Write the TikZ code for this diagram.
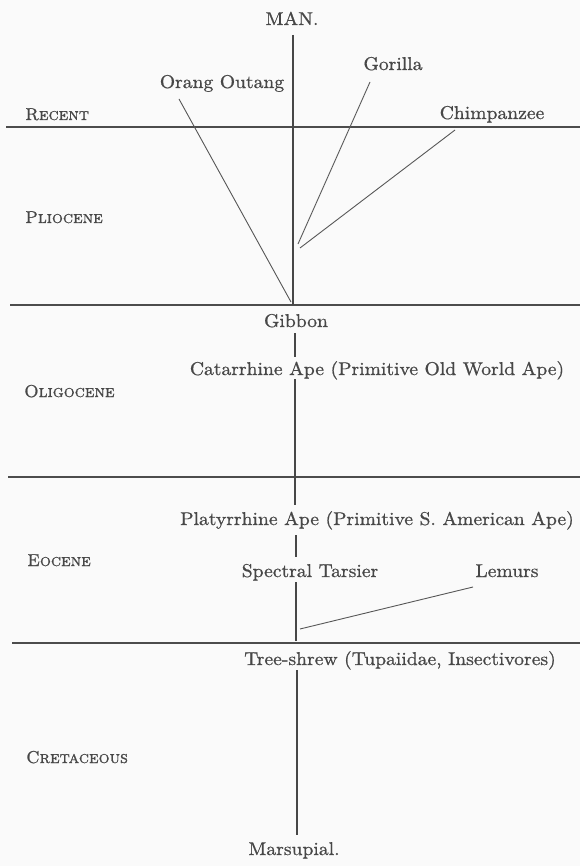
\documentclass[tikz,border=0pt]{standalone}
\usepackage{fontspec}
\newfontfamily\heavy{lmroman10-regular.otf}[FakeBold=0.8,SmallCapsFont=lmromancaps10-regular.otf,SmallCapsFeatures={FakeBold=1.0}]
\begin{document}
\begin{tikzpicture}[x=1pt,y=-1pt,
  lbl/.style={inner sep=0pt,anchor=base,text=black!72,xscale=1.06,transform shape,font=\heavy\fontsize{18.5}{22}\selectfont},
  era/.style={inner sep=0pt,anchor=base west,text=black!72,font=\heavy\scshape\fontsize{17.2}{21}\selectfont},
  branch/.style={draw=black!66,line width=0.9pt},
  stem/.style={draw=black!72,line width=1.1pt},
  bound/.style={draw=black!70,line width=1.3pt}]
\fill[black!2] (0,0) rectangle (580,866);
\useasboundingbox (0,0) rectangle (580,866);
% taxa
\node[lbl] (man) at (292,25) {MAN.};
\node[lbl] (orang) at (222,88) {Orang Outang};
\node[lbl] (gorilla) at (393,70) {Gorilla};
\node[lbl] (chimp) at (492,119) {Chimpanzee};
\node[lbl] (gibbon) at (296,327) {Gibbon};
\node[lbl] (cat) at (377,375) {Catarrhine Ape (Primitive Old World Ape)};
\node[lbl] (platy) at (377,525) {Platyrrhine Ape (Primitive S. American Ape)};
\node[lbl] (tarsier) at (310,577) {Spectral Tarsier};
\node[lbl] (lemurs) at (507,577) {Lemurs};
\node[lbl] (shrew) at (400,665) {Tree-shrew (Tupaiidae, Insectivores)};
\node[lbl] (marsup) at (294,855) {Marsupial.};
% eras
\node[era] (recent) at (25,120) {Recent};
\node[era] (plio) at (25,223) {Pliocene};
\node[era] (oligo) at (24,397) {Oligocene};
\node[era] (eoc) at (27,566) {Eocene};
\node[era] (cret) at (26,763) {Cretaceous};
% boundaries
\coordinate (b1l) at (6,127);  \coordinate (b1r) at (580,127);
\coordinate (b2l) at (10,305); \coordinate (b2r) at (580,305);
\coordinate (b3l) at (8,477);  \coordinate (b3r) at (580,477);
\coordinate (b4l) at (12,643); \coordinate (b4r) at (580,643);
\draw[bound] (b1l) -- (b1r);
\draw[bound] (b2l) -- (b2r);
\draw[bound] (b3l) -- (b3r);
\draw[bound] (b4l) -- (b4r);
% junctions and line ends
\coordinate (mantop) at (293,35);
\coordinate (gibtop) at (293,305);
\coordinate (oend) at (179,99);
\coordinate (ojoin) at (291,302);
\coordinate (gend) at (370,82);
\coordinate (gjoin) at (298,244);
\coordinate (cend) at (455,130);
\coordinate (cjoin) at (300,248);
\coordinate (gibbot) at (295,333);
\coordinate (cattop) at (295,357);
\coordinate (catbot) at (295,379);
\coordinate (platytop) at (295,505);
\coordinate (platybot) at (296,535);
\coordinate (tartop) at (296,557);
\coordinate (tarbot) at (296,582);
\coordinate (shrewtop) at (296,641);
\coordinate (lend) at (473,587);
\coordinate (ljoin) at (300,629);
\coordinate (shrewbot) at (297,670);
\coordinate (marstop) at (297,835);
% stems
\draw[stem] (mantop) -- (gibtop);
\draw[branch] (oend) -- (ojoin);
\draw[branch] (gend) -- (gjoin);
\draw[branch] (cend) -- (cjoin);
\draw[stem] (gibbot) -- (cattop);
\draw[stem] (catbot) -- (platytop);
\draw[stem] (platybot) -- (tartop);
\draw[stem] (tarbot) -- (shrewtop);
\draw[branch] (lend) -- (ljoin);
\draw[stem] (shrewbot) -- (marstop);
\end{tikzpicture}
\end{document}
